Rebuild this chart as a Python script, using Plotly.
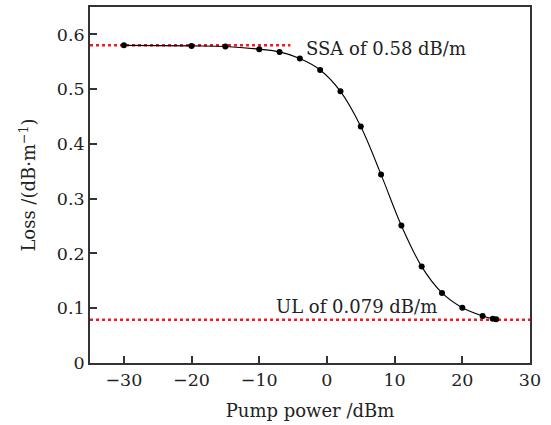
import plotly.graph_objects as go

pump_dbm = [-30, -20, -15, -10, -7, -4, -1, 2, 5, 8, 11, 14, 17, 20, 23, 24.5, 25]
loss_db_per_m = [0.580, 0.579, 0.578, 0.573, 0.568, 0.556, 0.535, 0.496, 0.432,
                 0.344, 0.251, 0.176, 0.128, 0.101, 0.086, 0.081, 0.080]

ssa_value = 0.58
ssa_x = [-35, -5.4]
ul_value = 0.079
ul_x = [-35, 30]

x_ticks = [-30, -20, -10, 0, 10, 20, 30]
y_ticks = [0, 0.1, 0.2, 0.3, 0.4, 0.5, 0.6]
y_ticklabels = ["0", "0.1", "0.2", "0.3", "0.4", "0.5", "0.6"]

FONT = "DejaVu Serif"
RED = "#ee1c24"
TXT = "#222"

fig = go.Figure()
fig.add_trace(go.Scatter(x=ssa_x, y=[ssa_value, ssa_value], mode="lines",
                         line=dict(color=RED, width=2.5, dash="dot"), showlegend=False))
fig.add_trace(go.Scatter(x=ul_x, y=[ul_value, ul_value], mode="lines",
                         line=dict(color=RED, width=2.5, dash="dot"), showlegend=False))
fig.add_trace(go.Scatter(x=pump_dbm, y=loss_db_per_m, mode="lines+markers",
                         line=dict(color="black", width=1.1, shape="spline"),
                         marker=dict(color="black", size=6), showlegend=False))

fig.add_annotation(x=-3.4, y=ssa_value, text="SSA of 0.58 dB/m", showarrow=False,
                   xanchor="left", yanchor="middle", yshift=-3,
                   font=dict(family=FONT, size=18, color=TXT))
fig.add_annotation(x=-7.8, y=ul_value, text="UL of 0.079 dB/m", showarrow=False,
                   xanchor="left", yanchor="bottom", yshift=1,
                   font=dict(family=FONT, size=18, color=TXT))

axis_common = dict(showline=True, linecolor="#333", linewidth=1.8, mirror=True,
                   ticks="inside", ticklen=7, tickwidth=1.5, tickcolor="#333",
                   showgrid=False, zeroline=False, automargin=False,
                   tickfont=dict(family=FONT, size=17.5, color=TXT))

fig.update_xaxes(range=[-35, 30], tickvals=x_ticks,
                 title=dict(text="Pump power /dBm", font=dict(family=FONT, size=18, color=TXT), standoff=15),
                 **axis_common)
fig.update_yaxes(range=[0, 0.65], tickvals=y_ticks, ticktext=y_ticklabels,
                 title=dict(text="Loss /(dB·m<sup>−1</sup>)", font=dict(family=FONT, size=18, color=TXT), standoff=16),
                 **axis_common)

fig.update_layout(width=551, height=425, margin=dict(l=90, r=21, t=7, b=62),
                  plot_bgcolor="white", paper_bgcolor="white")

fig.write_html("out.html", config={"displayModeBar": False},
               post_script="document.body.style.margin='0';")
